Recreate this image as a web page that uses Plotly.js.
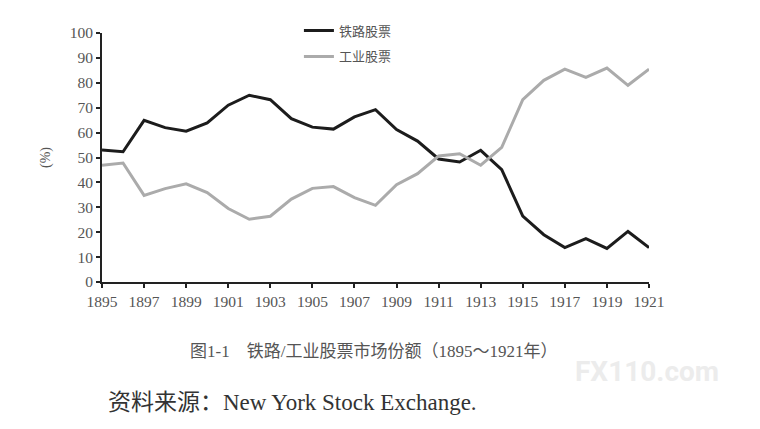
<!DOCTYPE html>
<html><head><meta charset="utf-8">
<script src="https://cdn.plot.ly/plotly-3.0.1.min.js"></script>
<style>html,body{margin:0;padding:0;background:#fff}#c{width:760px;height:429px}</style>
</head><body><div id="c"></div>
<script>
const years = [1895,1896,1897,1898,1899,1900,1901,1902,1903,1904,1905,1906,1907,1908,1909,1910,1911,1912,1913,1914,1915,1916,1917,1918,1919,1920,1921];
const railroad = [53,52.3,64.9,62,60.6,63.9,71,75,73.2,65.6,62.2,61.4,66.3,69.2,61.2,56.6,49.4,48.2,52.9,45.1,26.5,19,13.8,17.4,13.5,20.3,13.8];
const industrial = [46.9,47.8,34.8,37.5,39.4,35.9,29.5,25.2,26.4,33.3,37.6,38.3,33.9,30.8,39.1,43.5,50.6,51.5,46.9,54.1,73.2,81,85.5,82.2,85.9,79,85.5];
const seriesNames = ['铁路股票','工业股票'];
const xTicks = [1895,1897,1899,1901,1903,1905,1907,1909,1911,1913,1915,1917,1919,1921];
const yTicks = [0,10,20,30,40,50,60,70,80,90,100];
const yTitle = '(%)';
const caption = '图1-1　铁路/工业股票市场份额（1895～1921年）';
const source = '资料来源：New York Stock Exchange.';
const watermark = 'FX110.com';

const serif = 'Liberation Serif, DejaVu Serif, serif';
const cjk = 'Noto Sans CJK SC, sans-serif';

const traces = [
  {x: years, y: railroad, name: seriesNames[0], legendgroup: 'a', mode: 'lines', line: {color: '#1c1c1c', width: 3}},
  {x: years, y: industrial, name: seriesNames[1], legendgroup: 'b', mode: 'lines', line: {color: '#ababab', width: 3}}
];

const layout = {
  width: 760, height: 429,
  margin: {l: 102, r: 111, t: 33, b: 147},
  paper_bgcolor: '#fff', plot_bgcolor: '#fff',
  showlegend: true,
  legend: {x: 0.36, xanchor: 'left', y: 1.07, yanchor: 'top', bgcolor: 'rgba(0,0,0,0)',
           traceorder: 'grouped', tracegroupgap: 6,
           font: {family: cjk, size: 13, color: '#555'}},
  xaxis: {range: [1895, 1921], tickvals: xTicks, ticktext: xTicks.map(String),
          showgrid: false, zeroline: false, showline: true, linecolor: '#222', linewidth: 2,
          ticks: 'outside', ticklen: 4, tickwidth: 2, tickcolor: '#222',
          tickfont: {family: serif, size: 15.5, color: '#555'}},
  yaxis: {range: [0, 100], tickvals: yTicks, ticktext: yTicks.map(String),
          showgrid: false, zeroline: false, showline: true, linecolor: '#222', linewidth: 2,
          ticks: 'outside', ticklen: 4, tickwidth: 2, tickcolor: '#222',
          tickfont: {family: serif, size: 15.5, color: '#555'},
          title: {text: yTitle, standoff: 16, font: {family: serif, size: 14, color: '#555'}}},
  annotations: [
    {text: caption, xref: 'paper', yref: 'paper', x: 0.496, y: -0.281, xanchor: 'center', yanchor: 'middle',
     showarrow: false, font: {family: serif + ', ' + cjk, size: 17, color: '#555'}},
    {text: source, xref: 'paper', yref: 'paper', x: 0.0, y: -0.482, xanchor: 'left', yanchor: 'middle',
     xshift: 4, showarrow: false, font: {family: serif + ', ' + cjk, size: 23, color: '#333'}},
    {text: '<b>' + watermark + '</b>', xref: 'paper', yref: 'paper', x: 0.996, y: -0.361, xanchor: 'center', yanchor: 'middle',
     showarrow: false, font: {family: 'Roboto, sans-serif', size: 28, color: '#ececec'}}
  ]
};

Plotly.newPlot('c', traces, layout, {displayModeBar: false, staticPlot: true});
</script></body></html>
